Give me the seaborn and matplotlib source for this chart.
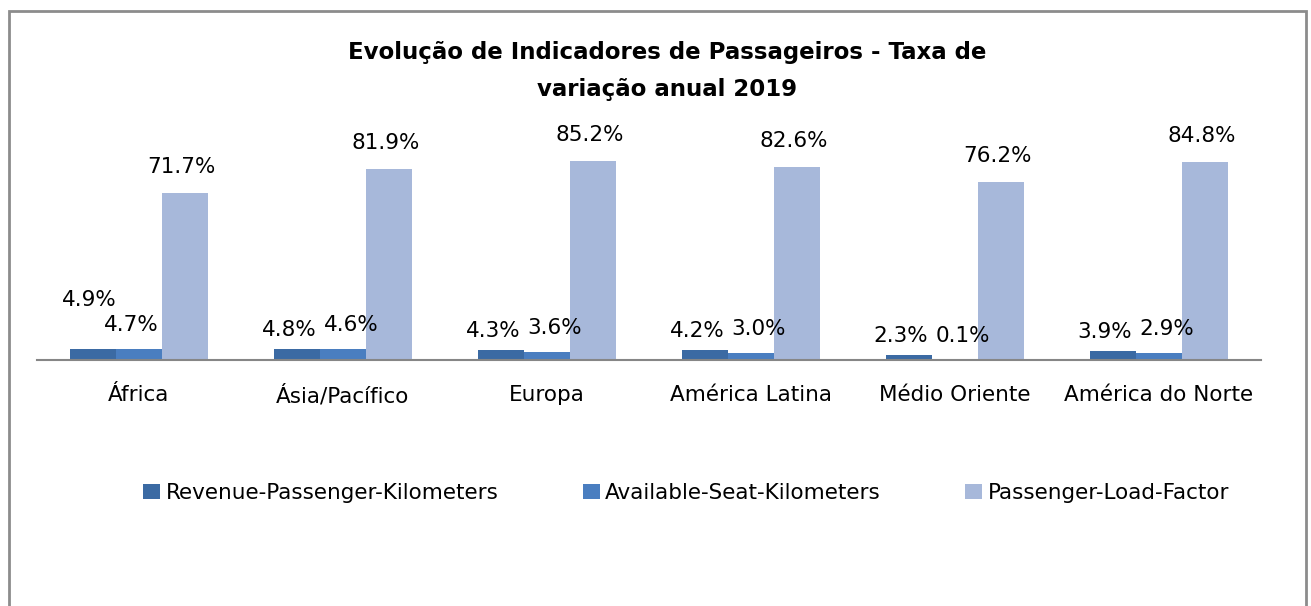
import matplotlib
matplotlib.use("Agg")
import matplotlib.pyplot as plt
import seaborn as sns
import pandas as pd
from matplotlib.patches import Rectangle, Patch

categories = ["África", "Ásia/Pacífico", "Europa", "América Latina", "Médio Oriente", "América do Norte"]
series_names = ["Revenue-Passenger-Kilometers", "Available-Seat-Kilometers", "Passenger-Load-Factor"]
rpk = [4.9, 4.8, 4.3, 4.2, 2.3, 3.9]
ask = [4.7, 4.6, 3.6, 3.0, 0.1, 2.9]
plf = [71.7, 81.9, 85.2, 82.6, 76.2, 84.8]
colors = ["#3B6AA3", "#4A7EC0", "#A7B8DA"]
title = "Evolução de Indicadores de Passageiros - Taxa de\nvariação anual 2019"

df = pd.DataFrame({
    "Região": categories * 3,
    "Série": [series_names[0]] * 6 + [series_names[1]] * 6 + [series_names[2]] * 6,
    "Valor": rpk + ask + plf,
})

sns.set_theme(style="white")
plt.rcParams["font.family"] = ["DejaVu Sans"]
plt.rcParams["text.color"] = "#000000"

W, H = 1311, 606
fig = plt.figure(figsize=(W / 100, H / 100), dpi=100)
ax = fig.add_axes([37 / W, (H - 360) / H, (1261 - 37) / W, 210 / H])

sns.barplot(data=df, x="Região", y="Valor", hue="Série", order=categories,
            hue_order=series_names, palette=colors, width=0.675, saturation=1,
            ax=ax, legend=False, edgecolor="none", linewidth=0)

ax.set_ylim(0, 90)
ax.set_xlim(-0.5, len(categories) - 0.5)
ax.set_xlabel("")
ax.set_ylabel("")
ax.set_yticks([])
for s in ["top", "right", "left"]:
    ax.spines[s].set_visible(False)
ax.spines["bottom"].set_color("#868686")
ax.spines["bottom"].set_linewidth(1.5)
ax.set_xticks(range(len(categories)))
ax.set_xticklabels(categories, fontsize=15.5, color="#000000")
ax.tick_params(axis="x", which="major", length=0, pad=18)
ax.set_xticks([i - 0.5 for i in range(len(categories) + 1)], minor=True)
ax.tick_params(axis="x", which="minor", length=8, width=1.5, color="#868686", direction="out")

# data labels (offsets in pixels -> points at 100 dpi)
px = 0.72
series_off = [(-8, 19), (8, 24), (-3, 26)]
for ci, cont in enumerate(ax.containers):
    for bi, patch in enumerate(cont.patches):
        val = patch.get_height()
        xc = patch.get_x() + patch.get_width() / 2
        dx, dy = series_off[ci]
        if bi == 0 and ci == 0:
            dx, dy = -4, 49
        elif bi == 0 and ci == 1:
            dx, dy = -8, 24
        ax.annotate(f"{val:.1f}%", (xc, val), xytext=(dx * px, dy * px), textcoords="offset points",
                    ha="center", va="center", fontsize=15.5, color="#000000",
                    annotation_clip=False)

fig.text(667 / W, 1 - 71 / H, title, ha="center", va="center", fontsize=16.5,
         fontweight="bold", linespacing=1.8, color="#000000")

handles = [Patch(facecolor=c, edgecolor="none") for c in colors]
fig.legend(handles, series_names, loc="center", bbox_to_anchor=(686 / W, 1 - 493 / H),
           ncol=3, frameon=False, fontsize=15.5, handlelength=0.8, handleheight=0.75,
           handletextpad=0.25, columnspacing=3.9, labelcolor="#000000")

fig.add_artist(Rectangle((9 / W, -0.05), (1306 - 9) / W, (1 - 11 / H) + 0.05,
                         transform=fig.transFigure, fill=False, edgecolor="#8C8C8C",
                         linewidth=2))

fig.savefig("out.png", dpi=100)
